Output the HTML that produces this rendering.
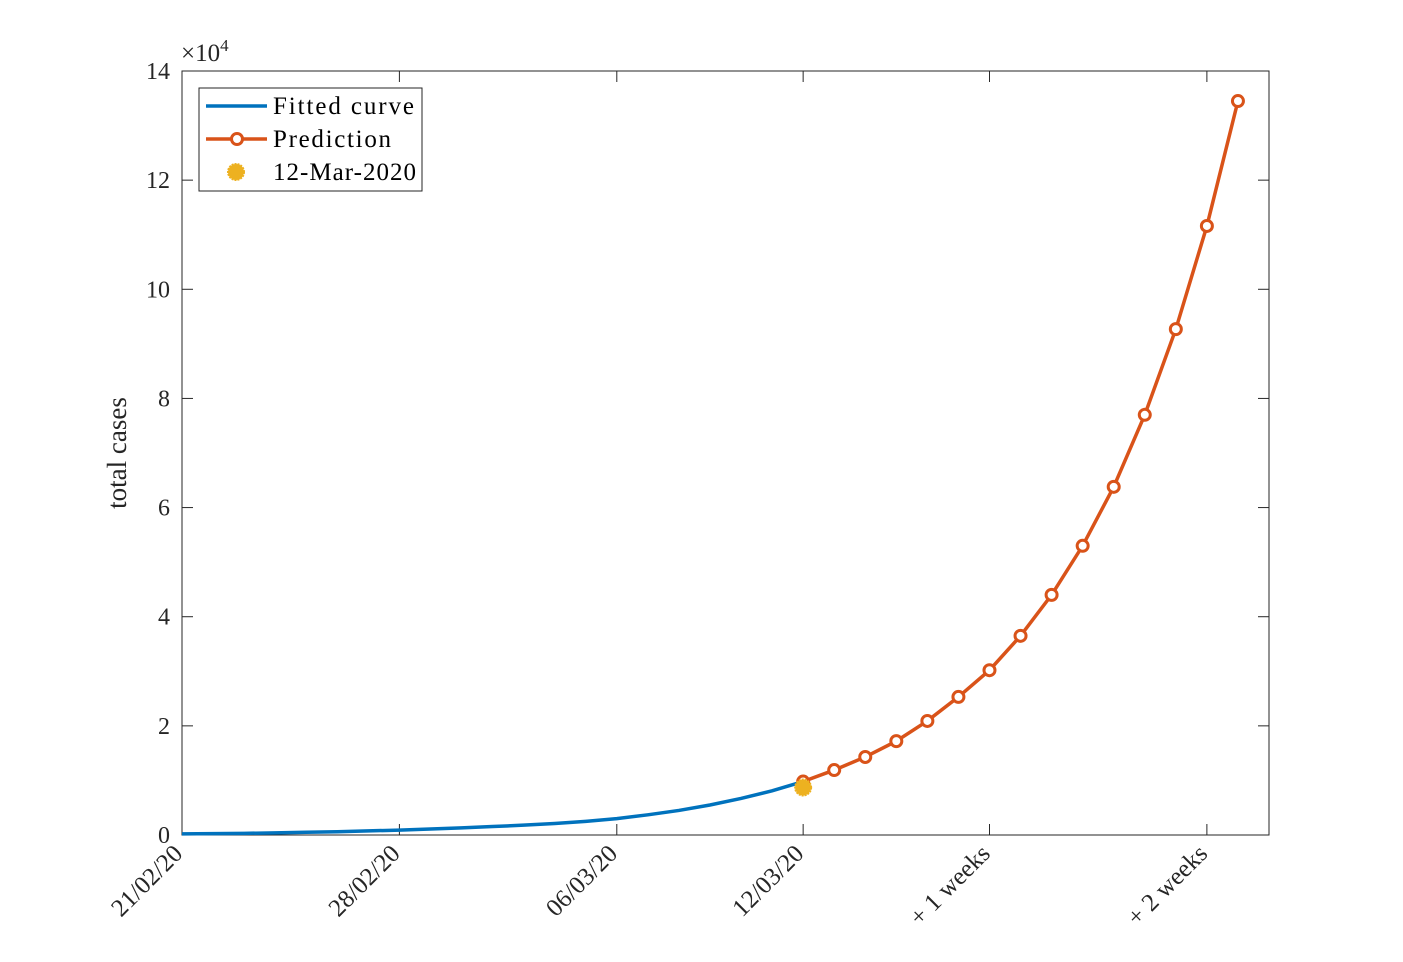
<!DOCTYPE html>
<html><head><meta charset="utf-8">
<style>
body{margin:0;background:#fff;}
svg{display:block;font-family:"Liberation Serif",serif;}
</style></head>
<body>
<svg id="chart" width="1403" height="962">
</svg>
<script>
const xTickLabels=["21/02/20","28/02/20","06/03/20","12/03/20","+ 1 weeks","+ 2 weeks"];
const xTickDays=[0,7,14,20,26,33];
const yTicks=[0,2,4,6,8,10,12,14];
const fittedValues=[0.02,0.025,0.03,0.04,0.05,0.06,0.075,0.09,0.11,0.13,0.155,0.18,0.21,0.25,0.30,0.37,0.45,0.55,0.67,0.81,0.98];
const predictionDays=[20,21,22,23,24,25,26,27,28,29,30,31,32,33,34];
const predictionValues=[0.98,1.19,1.43,1.72,2.09,2.53,3.02,3.65,4.40,5.30,6.38,7.70,9.27,11.16,13.45];
const markerDay=[20];
const markerValue=[0.87];

const L=182,R=1269,T=71,B=835,XMAX=35,YMAX=14;
const xs=d=>L+d*(R-L)/XMAX;
const ys=v=>B-v*(B-T)/YMAX;
const svg=document.getElementById('chart');
const NS='http://www.w3.org/2000/svg';
function mk(tag,attrs,parent){const e=document.createElementNS(NS,tag);for(const k in attrs)e.setAttribute(k,attrs[k]);(parent||svg).appendChild(e);return e;}

let e=mk('rect',{x:L,y:T,width:R-L,height:B-T,fill:'#fff',stroke:'#262626','stroke-width':1});



yTicks.forEach(v=>{
  const y=ys(v);
  mk('line',{x1:L,x2:L+11,y1:y,y2:y,stroke:'#262626'});
  mk('line',{x1:R-11,x2:R,y1:y,y2:y,stroke:'#262626'});
  const t=mk('text',{x:L-12,y:y+8,'text-anchor':'end','font-size':24,fill:'#262626'});
  t.textContent=v;
  
  
});
xTickDays.forEach((d,i)=>{
  const x=xs(d);
  mk('line',{x1:x,x2:x,y1:B,y2:B-11,stroke:'#262626'});
  mk('line',{x1:x,x2:x,y1:T,y2:T+11,stroke:'#262626'});
  const t=mk('text',{x:x+2,y:B+20,'text-anchor':'end','font-size':25,fill:'#262626',transform:`rotate(-45 ${x+2} ${B+20})`});
  t.textContent=xTickLabels[i];
  
  
});
let ex=mk('text',{x:181,y:61,'font-size':25,fill:'#262626'});
ex.innerHTML='×10<tspan dy="-10" font-size="17">4</tspan>';


let yl=mk('text',{x:126,y:453,'text-anchor':'middle','font-size':27,fill:'#262626',transform:'rotate(-90 126 453)'});
yl.textContent='total cases';



let fp=mk('polyline',{points:fittedValues.map((v,i)=>xs(i)+','+ys(v)).join(' '),fill:'none',stroke:'#0072BD','stroke-width':3.5});


let pp=mk('polyline',{points:predictionValues.map((v,i)=>xs(predictionDays[i])+','+ys(v)).join(' '),fill:'none',stroke:'#D95319','stroke-width':3.5});


predictionValues.forEach((v,i)=>{
  const c=mk('circle',{cx:xs(predictionDays[i]),cy:ys(v),r:5.5,fill:'#fff',stroke:'#D95319','stroke-width':3});
  
  
});
markerValue.forEach((v,i)=>{
  const c=mk('circle',{cx:xs(markerDay[i]),cy:ys(v),r:8,fill:'#EDB120',stroke:'#EDB120','stroke-width':2,'stroke-dasharray':'2 1'});
  
  
});

const lg=mk('g',{});


mk('rect',{x:199,y:88,width:223,height:103,fill:'#fff',stroke:'#262626','stroke-width':1},lg);
mk('line',{x1:206,x2:267,y1:106,y2:106,stroke:'#0072BD','stroke-width':3.5},lg);
mk('line',{x1:206,x2:267,y1:139,y2:139,stroke:'#D95319','stroke-width':3.5},lg);
mk('circle',{cx:237,cy:139,r:5.5,fill:'#fff',stroke:'#D95319','stroke-width':3},lg);
mk('circle',{cx:236,cy:172,r:8,fill:'#EDB120',stroke:'#EDB120','stroke-width':2,'stroke-dasharray':'2 1'},lg);
[['Fitted curve',114],['Prediction',147],['12-Mar-2020',180]].forEach(([s,y])=>{
  const t=mk('text',{x:273,y:y,'font-size':25,fill:'#000',textLength:s==='Fitted curve'?141:(s==='Prediction'?118:143)},lg);
  t.textContent=s;
  
  
});
</script>
</body></html>
